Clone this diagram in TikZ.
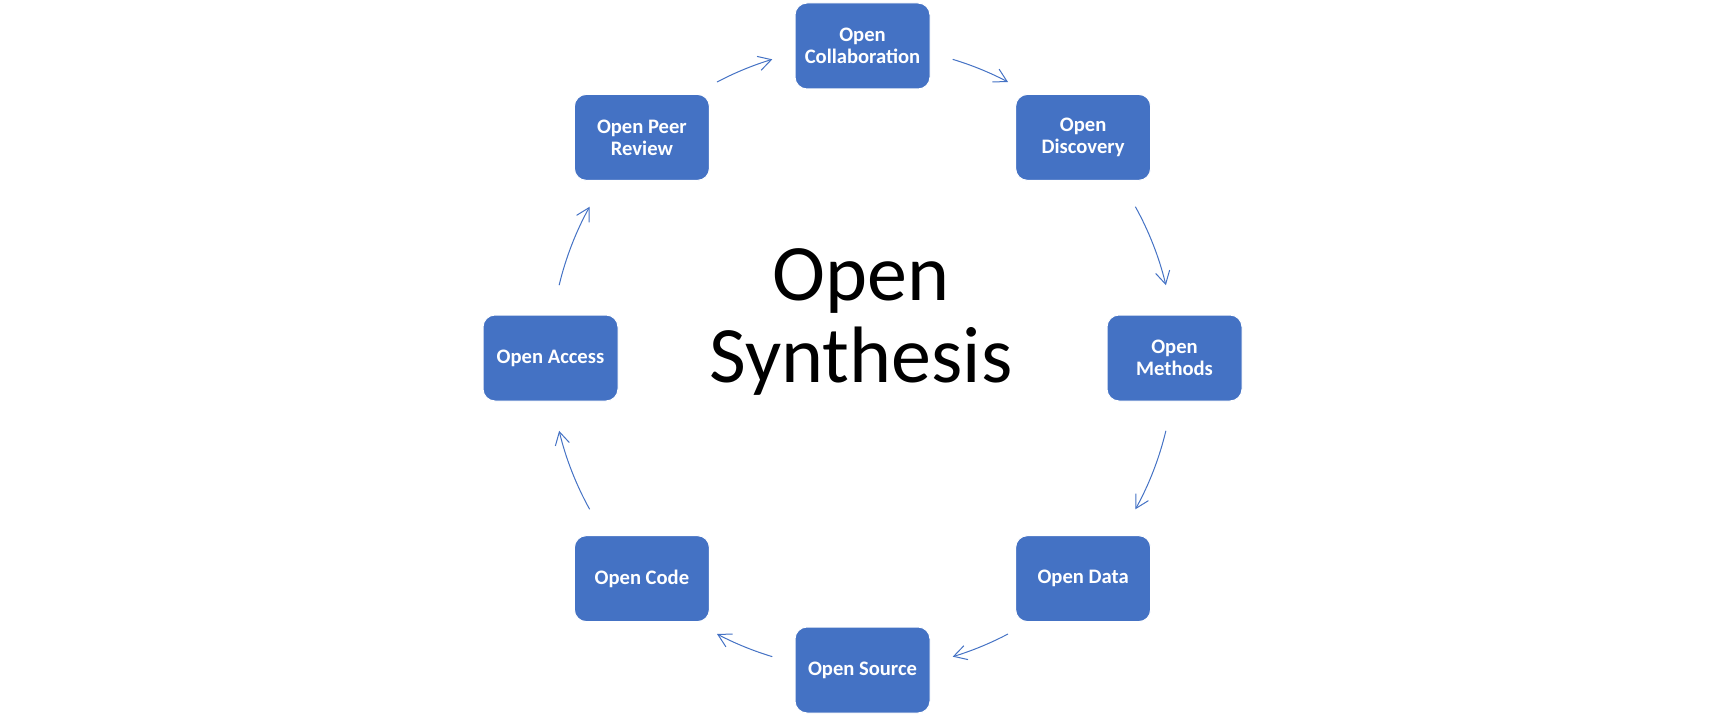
\documentclass[tikz,border=0pt]{standalone}
\usepackage{fontspec}
\setmainfont{Carlito}
\usetikzlibrary{arrows.meta,calc}
\definecolor{officeblue}{HTML}{4472C4}
\tikzset{
  stagebox/.style={draw=white, line width=0.5pt, fill=officeblue, rounded corners=6pt,
    minimum width=67.5pt, minimum height=43pt, inner sep=0pt, align=center,
    text=white, font=\fontsize{10.3}{11}\selectfont\bfseries},
  cyclearrow/.style={draw=officeblue, line width=0.5pt,
    -{Straight Barb[length=6.4pt,width=7.2pt]}},
  bigtitle/.style={align=center, inner sep=0pt, font=\fontsize{40}{41}\selectfont}
}
\begin{document}
\begin{tikzpicture}[x=0.5pt,y=0.5pt]
\useasboundingbox (0,0) rectangle (1724,714);
\coordinate (C) at (862.5,356);
\def\R{312}
\node[stagebox] (collab) at ($(C)+(90:\R)$) {Open\\Collaboration};
\node[stagebox] (disc) at ($(C)+(45:\R)$) {Open\\Discovery};
\node[stagebox] (meth) at ($(C)+(0:\R)$) {Open\\Methods};
\node[stagebox] (data) at ($(C)+(-45:\R)$) {Open Data};
\node[stagebox] (source) at ($(C)+(-90:\R)$) {Open Source};
\node[stagebox] (code) at ($(C)+(-135:\R)$) {Open Code};
\node[stagebox] (access) at ($(C)+(180:\R)$) {Open Access};
\node[stagebox] (peer) at ($(C)+(135:\R)$) {Open Peer\\Review};
\node[bigtitle] (title) at (861,392) {Open\\Synthesis};
% arc start points
\coordinate (s1) at ($(C)+(117.8:\R)$);
\coordinate (s2) at ($(C)+(73.2:\R)$);
\coordinate (s3) at ($(C)+(29:\R)$);
\coordinate (s4) at ($(C)+(-13.5:\R)$);
\coordinate (s5) at ($(C)+(-62.2:\R)$);
\coordinate (s6) at ($(C)+(-106.8:\R)$);
\coordinate (s7) at ($(C)+(-151:\R)$);
\coordinate (s8) at ($(C)+(166.5:\R)$);
\draw[cyclearrow] (s1) arc[start angle=117.8, end angle=106.8, radius=\R];
\draw[cyclearrow] (s2) arc[start angle=73.2, end angle=62.2, radius=\R];
\draw[cyclearrow] (s3) arc[start angle=29, end angle=13.5, radius=\R];
\draw[cyclearrow] (s4) arc[start angle=-13.5, end angle=-29, radius=\R];
\draw[cyclearrow] (s5) arc[start angle=-62.2, end angle=-73.2, radius=\R];
\draw[cyclearrow] (s6) arc[start angle=-106.8, end angle=-117.8, radius=\R];
\draw[cyclearrow] (s7) arc[start angle=-151, end angle=-166.5, radius=\R];
\draw[cyclearrow] (s8) arc[start angle=166.5, end angle=151, radius=\R];
\end{tikzpicture}
\end{document}
